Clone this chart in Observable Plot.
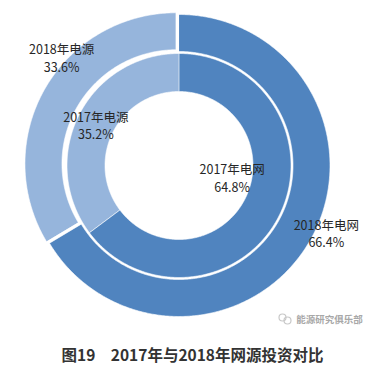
<!DOCTYPE html>
<html>
<head>
<meta charset="utf-8">
<script src="https://cdn.jsdelivr.net/npm/d3@7"></script>
<script src="https://cdn.jsdelivr.net/npm/@observablehq/plot@0.6"></script>
<style>
  html, body { margin: 0; padding: 0; background: #fff; }
  #wrap { width: 385px; }
  #caption { width: 385px; text-align: center; font-family: "Noto Sans CJK SC", sans-serif;
    font-weight: 700; font-size: 15.5px; line-height: 20px; color: #333; margin-top: 4px; white-space: pre; }
</style>
</head>
<body>
<div id="wrap"></div>
<div id="caption">图19　2017年与2018年网源投资对比</div>
<script>
// ---- data ----
const categories = ["电网", "电源"];
const years = ["2017", "2018"];
const share2017 = [64.8, 35.2];
const share2018 = [66.4, 33.6];
const watermark = "能源研究俱乐部";

// ---- layout ----
const W = 385, H = 340;
const cx = 178.5, cy = 165;
const rings = {
  "2017": {values: share2017, r0: 74, r1: 112, explode: [0, 0]},
  "2018": {values: share2018, r0: 114, r1: 151, explode: [0, 3.5]}
};
const colors = ["#5084bf", "#96b5dc"];
// label offsets from the slice's mid-angle anchor (px): [dx, dy] per year/category
const labelShift = {
  "2017": [[-30, -30], [0, 1]],
  "2018": [[32, 2], [1, -41]]
};

const rad = a => a * Math.PI / 180;
const polys = [];
const labels = [];
for (const y of years) {
  const ring = rings[y];
  const total = d3.sum(ring.values);
  let a = 0;
  ring.values.forEach((v, i) => {
    const a0 = a, a1 = a + v / total * 360;
    a = a1;
    const mid = (a0 + a1) / 2;
    const ex = ring.explode[i];
    const ox = ex * Math.sin(rad(mid)), oy = -ex * Math.cos(rad(mid));
    const key = y + categories[i];
    const steps = Math.max(2, Math.ceil((a1 - a0) / 0.5));
    for (let s = 0; s <= steps; s++) {
      const t = a0 + (a1 - a0) * s / steps;
      polys.push({key, cat: categories[i], x: cx + ox + ring.r1 * Math.sin(rad(t)), y: cy + oy - ring.r1 * Math.cos(rad(t))});
    }
    for (let s = steps; s >= 0; s--) {
      const t = a0 + (a1 - a0) * s / steps;
      polys.push({key, cat: categories[i], x: cx + ox + ring.r0 * Math.sin(rad(t)), y: cy + oy - ring.r0 * Math.cos(rad(t))});
    }
    const rm = (ring.r0 + ring.r1) / 2;
    const sh = labelShift[y][i];
    labels.push({
      x: cx + ox + rm * Math.sin(rad(mid)) + sh[0],
      y: cy + oy - rm * Math.cos(rad(mid)) + sh[1],
      text: `${y}年${categories[i]}\n${v.toFixed(1)}%`
    });
  });
}

const chart = Plot.plot({
  width: W, height: H,
  margin: 0,
  style: {background: "#fff", fontFamily: "'Noto Sans CJK SC', sans-serif"},
  x: {domain: [0, W], range: [0, W], axis: null},
  y: {domain: [0, H], range: [0, H], axis: null},
  color: {domain: categories, range: colors},
  marks: [
    Plot.line(polys, {x: "x", y: "y", z: "key", fill: "cat", stroke: "white", strokeWidth: 0.6, curve: "linear-closed"}),
    Plot.text(labels, {x: "x", y: "y", text: "text", fontSize: 12.5, lineHeight: 1.4, fill: "#262626", lineAnchor: "middle"}),
    Plot.dot([{x: 282, y: 317}, {x: 287, y: 320}], {x: "x", y: "y", r: 3.5, stroke: "#c8c8c8", strokeWidth: 1.2, fill: "none"}),
    Plot.text([watermark], {x: [329], y: [319], text: d => d, fontSize: 9.5, fill: "#a8a8a8", fontWeight: 700})
  ]
});
document.getElementById("wrap").appendChild(chart);
</script>
</body>
</html>
